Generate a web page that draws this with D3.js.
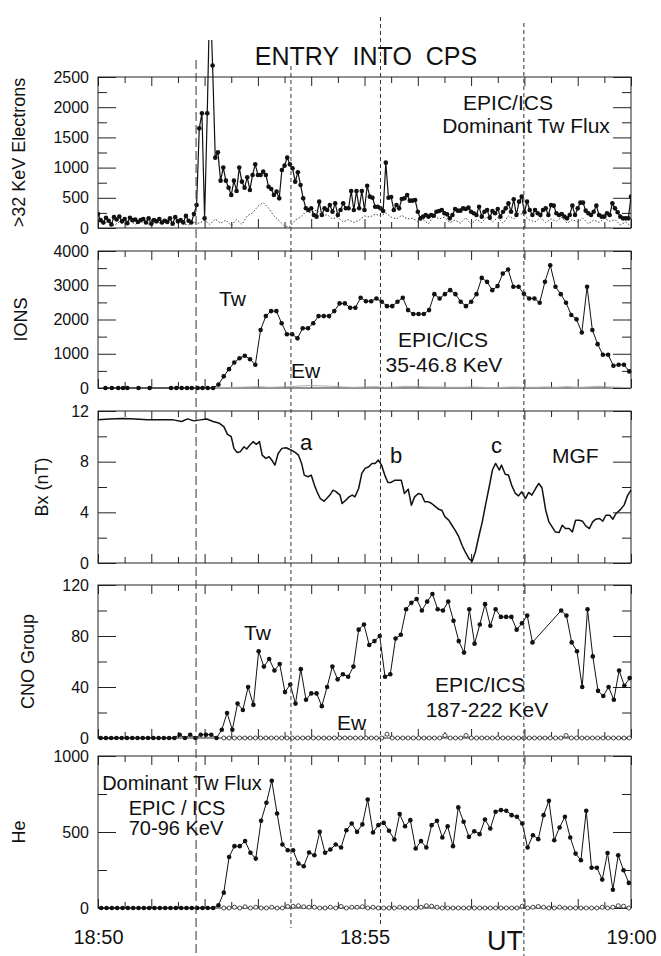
<!DOCTYPE html>
<html>
<head>
<meta charset="utf-8">
<script src="https://cdn.jsdelivr.net/npm/d3@7"></script>
<style>
  body { margin: 0; background: #fff; }
  svg { display: block; font-family: "Liberation Sans", Arial, Helvetica, sans-serif; }
</style>
</head>
<body>
<div id="chart"></div>
<script>
// ---- data (time in minutes after 18:50 UT) ----

// >32 keV electrons, Tw (dots), sampled every 3 s
const elecStep = 0.05;
const elecTw = [
  230,130,90,170,120,60,180,140,190,110,150,80,170,130,140,100,130,150,90,160,
  70,130,110,150,90,120,100,160,70,180,110,130,90,200,120,90,230,380,1650,1900,
  160,1900,4000,2690,1165,1253,784,1000,784,668,546,784,613,1000,767,668,839,630,878,1054,
  878,878,933,878,684,646,546,602,491,960,1032,1165,1054,988,767,922,712,491,326,298,
  326,215,188,436,215,326,298,381,270,408,215,298,408,326,326,613,298,613,326,613,
  298,700,519,502,353,353,325,281,1082,502,513,298,381,325,480,491,546,453,453,464,
  270,160,188,215,188,215,204,270,281,298,243,226,160,215,314,287,287,325,314,337,
  270,243,215,353,188,270,298,171,281,243,314,188,270,325,408,270,475,215,436,519,
  260,436,298,215,298,243,215,298,325,215,381,370,243,215,232,188,160,215,370,215,
  325,420,420,287,243,215,270,370,215,188,188,243,215,408,325,260,188,160,160,160,
  519
];
// >32 keV electrons, Ew (dotted), every 6 s
const elecEwStep = 0.1;
const elecEw = [
  150,60,120,40,100,70,120,60,110,80,50,110,60,150,60,120,70,50,90,80,
  130,60,150,80,130,40,140,60,200,250,360,420,330,200,120,30,20,130,180,270,
  250,300,200,220,150,180,100,140,90,130,200,180,230,200,250,180,150,210,150,160,
  110,140,70,200,150,180,90,130,80,170,60,140,90,190,100,170,80,200,150,250,
  200,130,100,170,90,150,110,180,80,140,100,160,70,130,90,160,110,140,50,100,
  30
];

// ions 35-46.8 keV
const ionTwEarlyTimes = [0.14,0.26,0.38,0.47,0.55,0.76,0.97,1.37,1.47,1.57,1.67,1.76,1.87,1.96,2.06,2.16];
const ionTwStart = 2.26, ionTwStep = 0.0988;
const ionTw = [
  100,340,550,745,870,940,840,680,1695,2100,2245,2245,1890,1570,1570,1450,1745,1745,1890,2100,
  2100,2100,2245,2470,2470,2345,2345,2635,2535,2535,2615,2520,2390,2390,2520,2635,2275,2160,2160,2160,
  2275,2740,2615,2740,2857,2740,2520,2390,2520,2740,3215,3100,2857,2975,3340,3460,2955,2955,2750,2615,
  2615,2490,3100,3585,2955,2740,2490,2130,2005,1620,2955,1695,1280,970,970,650,680,680,485
];
const ionEwStart = 0.2, ionEwStep = 0.2;
const ionEw = [
  0,0,0,0,0,0,0,0,0,0,0,10,20,30,40,20,30,40,60,70,
  60,50,30,20,30,40,20,30,50,40,30,30,20,20,30,20,10,20,30,20,
  20,30,20,40,20,30,50,30,20,10
];

// Bx (nT), MGF
const bxTime = [
  0,0.22,0.46,0.70,0.93,1.17,1.41,1.57,1.68,1.80,1.92,2.04,2.16,2.28,2.36,2.43,2.50,2.55,2.61,2.67,
  2.74,2.79,2.85,2.91,2.97,3.03,3.08,3.15,3.21,3.26,3.32,3.38,3.45,3.53,3.62,3.70,3.76,3.82,3.87,3.94,
  4.00,4.06,4.11,4.17,4.24,4.29,4.35,4.41,4.47,4.54,4.58,4.65,4.71,4.77,4.82,4.89,4.95,5.01,5.08,5.14,
  5.20,5.26,5.32,5.38,5.44,5.50,5.57,5.63,5.69,5.75,5.82,5.88,5.94,6.01,6.07,6.13,6.20,6.26,6.32,6.39,
  6.45,6.51,6.58,6.64,6.70,6.77,6.83,6.89,6.96,7.02,7.08,7.15,7.21,7.27,7.34,7.40,7.46,7.53,7.57,7.64,
  7.70,7.76,7.83,7.89,7.95,8.02,8.08,8.14,8.21,8.27,8.33,8.40,8.46,8.52,8.58,8.65,8.71,8.77,8.84,8.90,
  8.96,9.03,9.09,9.15,9.22,9.28,9.34,9.41,9.47,9.53,9.60,9.66,9.72,9.79,9.87,9.94,10.0
];
const bxValue = [
  11.30,11.37,11.40,11.37,11.30,11.30,11.30,11.17,11.38,11.22,11.30,11.37,11.17,11.03,10.77,10.16,9.97,9.05,8.73,8.79,
  9.18,9.00,9.31,9.58,9.37,9.58,8.52,8.26,8.39,8.13,7.73,8.65,9.05,9.10,8.92,8.73,8.52,7.86,6.94,6.81,
  6.94,6.15,5.62,5.09,4.88,5.09,5.36,5.75,5.62,5.36,4.70,4.96,5.22,5.36,5.22,5.88,7.07,7.47,7.60,7.86,
  7.86,8.13,7.73,6.94,6.36,6.36,6.54,6.54,6.54,5.49,5.83,4.56,5.22,5.49,5.41,4.83,4.83,4.70,4.49,4.25,
  4.17,3.64,3.38,2.98,2.59,2.06,1.40,0.87,0.34,0.13,0.87,2.19,3.25,4.57,6.02,7.34,7.86,7.34,7.73,7.00,
  6.94,6.15,5.49,5.30,5.62,5.09,5.57,5.36,5.88,6.28,5.94,4.17,3.25,2.85,2.45,2.40,2.98,2.72,2.72,2.45,
  3.38,3.38,3.30,2.93,2.72,3.25,3.46,3.51,3.30,3.77,3.77,3.46,3.91,4.17,4.57,5.36,5.75
];

// CNO group 187-222 keV
const cnoStart = 0.05, cnoStep = 0.0988;
const cnoTw = [
  0,0,0,0,0,0,0,0,0,0,0,0,0,0,0,2.6,0,2.6,0,2.6,
  2.6,2.6,0,6.5,19.6,6.5,27,22,40,26,68,56,62,53,58,36,42,27,54,30,
  35,35,25,40,56,46,50,48,56,85,89,73,76,80,48,50,78,81,101,106,
  109,100,107,113,101,100,107,92,76,67,101,74,89,105,88,101,95,95,95,85,
  90,96,75
];
const cnoLateStart = 8.69;
const cnoTwLate = [100,96,75,68,40,101,64,37,33,40,30,53,41,47];
const cnoEwStart = 2.36, cnoEwStep = 0.0988;
const cnoEw = [
  0,0,0,0,0,0,0,0,0,0,0,0,0,0,0,0,0,0,0,0,
  0,0,0,0,0,0,0,0,0,0,0,3,0,0,0,0,0,0,0,0,
  0,0,2,0,0,0,2,0,0,0,0,0,0,0,0,0,0,0,0,0,
  0,0,0,0,0,2,0,0,0,0,0,0,0,0,0,0,0,0
];

// He 70-96 keV
const heStart = 0.06, heStep = 0.1;
const heTw = [
  0,0,0,0,0,0,0,0,0,0,0,0,0,0,0,0,0,0,0,0,0,0,
  18,101,336,407,407,440,363,325,574,692,837,622,418,380,380,292,275,365,347,501,
  363,385,418,398,512,556,501,550,714,497,545,560,508,451,618,538,578,391,440,398,
  545,574,464,538,407,662,567,468,505,486,582,523,633,644,640,611,600,556,398,479,
  453,611,705,446,530,600,464,358,314,640,265,265,187,362,120,347,248,165
];
const heEwStart = 2.36, heEwStep = 0.1;
const heEw = [
  0,0,5,0,8,0,5,0,0,5,0,0,10,12,15,8,5,5,0,0,5,0,10,0,5,5,8,0,5,0,
  0,0,0,5,0,0,0,5,15,12,5,0,0,0,0,0,0,0,0,0,
  0,0,0,0,0,0,12,0,5,10,5,0,0,5,0,0,0,0,0,0,
  0,5,0,5,15,12,0
];

// event markers (dashed verticals)
const eventTimes = [1.84, 3.62, 5.30, 7.99];

// axis ticks
const elecTicks = [0,500,1000,1500,2000,2500], elecMinor = [250,750,1250,1750,2250];
const ionTicks = [0,1000,2000,3000,4000], ionMinor = [500,1500,2500,3500];
const bxTicks = [0,4,8,12], bxMinor = [2,6,10];
const cnoTicks = [0,40,80,120], cnoMinor = [20,60,100];
const heTicks = [0,500,1000], heMinor = [250,750];

// ---- helpers ----
const t0 = Date.UTC(1998, 0, 1, 18, 50);
const at = (m) => new Date(t0 + m * 60000);
const grid = (start, step, vals) => vals.map((v, i) => ({ t: at(start + i * step), v }));
const pairs = (times, vals) => vals.map((v, i) => ({ t: at(times[i]), v }));

// ---- layout ----
const width = 661, height = 956;
const plotLeft = 98, plotRight = 631;

const x = d3.scaleUtc().domain([at(0), at(10)]).range([plotLeft, plotRight]);
const minuteTicks = d3.utcMinute.range(at(0), at(10.01));
const halfTicks = d3.utcSecond.every(30).range(at(0), at(10.01)).filter((d) => d.getUTCSeconds() === 30);

const svg = d3.create("svg")
  .attr("width", width)
  .attr("height", height)
  .attr("viewBox", [0, 0, width, height]);

svg.append("rect").attr("width", width).attr("height", height).attr("fill", "#fff");

const panels = [
  { top: 77,  bottom: 228, max: 2500, ticks: elecTicks, minor: elecMinor, label: ">32 KeV Electrons", labelX: 19 },
  { top: 251, bottom: 388, max: 4000, ticks: ionTicks,  minor: ionMinor,  label: "IONS",              labelX: 21 },
  { top: 411, bottom: 563, max: 12,   ticks: bxTicks,   minor: bxMinor,   label: "Bx (nT)",           labelX: 42 },
  { top: 585, bottom: 738, max: 120,  ticks: cnoTicks,  minor: cnoMinor,  label: "CNO Group",         labelX: 28 },
  { top: 756, bottom: 908, max: 1000, ticks: heTicks,   minor: heMinor,   label: "He",                labelX: 19 }
];

function noDomain(g) { g.select(".domain").remove(); }

function drawPanel(p, withTimeLabels) {
  const y = d3.scaleLinear().domain([0, p.max]).range([p.bottom, p.top]);
  const g = svg.append("g");

  g.append("rect")
    .attr("x", plotLeft).attr("y", p.top)
    .attr("width", plotRight - plotLeft).attr("height", p.bottom - p.top)
    .attr("fill", "none").attr("stroke", "#222").attr("stroke-width", 1);

  // left
  g.append("g").attr("transform", `translate(${plotLeft},0)`)
    .call(d3.axisLeft(y).tickValues(p.ticks).tickSize(-18).tickPadding(9).tickFormat(d3.format("d")))
    .call(noDomain)
    .call((a) => a.selectAll("text").attr("font-size", 16).attr("font-family", null).attr("fill", "#111"));
  g.append("g").attr("transform", `translate(${plotLeft},0)`)
    .call(d3.axisLeft(y).tickValues(p.minor).tickSize(-9).tickFormat(""))
    .call(noDomain);
  // right
  g.append("g").attr("transform", `translate(${plotRight},0)`)
    .call(d3.axisRight(y).tickValues(p.ticks).tickSize(-18).tickFormat(""))
    .call(noDomain);
  g.append("g").attr("transform", `translate(${plotRight},0)`)
    .call(d3.axisRight(y).tickValues(p.minor).tickSize(-9).tickFormat(""))
    .call(noDomain);
  // top
  g.append("g").attr("transform", `translate(0,${p.top})`)
    .call(d3.axisTop(x).tickValues(minuteTicks).tickSize(-9).tickFormat(""))
    .call(noDomain);
  g.append("g").attr("transform", `translate(0,${p.top})`)
    .call(d3.axisTop(x).tickValues(halfTicks).tickSize(-6).tickFormat(""))
    .call(noDomain);
  // bottom
  const fmt = d3.utcFormat("%H:%M");
  g.append("g").attr("transform", `translate(0,${p.bottom})`)
    .call(d3.axisBottom(x).tickValues(minuteTicks).tickSize(-9).tickPadding(22)
      .tickFormat((d) => (withTimeLabels && d.getUTCMinutes() % 5 === 0 ? fmt(d) : "")))
    .call(noDomain)
    .call((a) => a.selectAll("text").attr("font-size", 20).attr("font-family", null).attr("fill", "#111"));
  g.append("g").attr("transform", `translate(0,${p.bottom})`)
    .call(d3.axisBottom(x).tickValues(halfTicks).tickSize(-6).tickFormat(""))
    .call(noDomain);

  g.selectAll(".tick line").attr("stroke", "#222");

  // y label
  g.append("text")
    .attr("transform", `translate(${p.labelX},${(p.top + p.bottom) / 2}) rotate(-90)`)
    .attr("text-anchor", "middle")
    .attr("dy", "0.35em")
    .attr("font-size", 18)
    .attr("fill", "#111")
    .text(p.label);

  return y;
}

const ys = panels.map((p, i) => drawPanel(p, i === panels.length - 1));

function drawLine(data, y, opts) {
  const line = d3.line().x((d) => x(d.t)).y((d) => y(d.v));
  const path = svg.append("path")
    .attr("d", line(data))
    .attr("fill", "none")
    .attr("stroke", opts.stroke || "#111")
    .attr("stroke-width", opts.width || 1)
    .attr("stroke-linejoin", "round");
  if (opts.dash) path.attr("stroke-dasharray", opts.dash);
  if (opts.clip) path.attr("clip-path", opts.clip);
  return path;
}

function drawDots(data, y, opts) {
  const g = svg.append("g");
  if (opts.clip) g.attr("clip-path", opts.clip);
  g.selectAll("circle")
    .data(data)
    .join("circle")
    .attr("cx", (d) => x(d.t))
    .attr("cy", (d) => y(d.v))
    .attr("r", opts.r || 2.3)
    .attr("fill", opts.open ? "#fff" : "#111")
    .attr("stroke", opts.open ? "#333" : "none")
    .attr("stroke-width", opts.open ? 0.9 : 0);
}

// clip for the electron panel (the spike leaves the frame)
svg.append("defs").append("clipPath").attr("id", "elec-clip")
  .append("rect").attr("x", plotLeft).attr("y", 40)
  .attr("width", plotRight - plotLeft).attr("height", 200);

// panel 1: electrons
const elecTwData = grid(0, elecStep, elecTw);
const elecEwData = grid(0, elecEwStep, elecEw);
drawLine(elecEwData, ys[0], { stroke: "#444", width: 1, dash: "1.5 1.8" });
drawLine(elecTwData, ys[0], { width: 1.2, clip: "url(#elec-clip)" });
drawDots(elecTwData, ys[0], { r: 2.3, clip: "url(#elec-clip)" });

// panel 2: ions
const ionTwData = ionTwEarlyTimes.map((m) => ({ t: at(m), v: 0 }))
  .concat(grid(ionTwStart, ionTwStep, ionTw));
drawLine(grid(ionEwStart, ionEwStep, ionEw), ys[1], { stroke: "#aaa", width: 1 });
drawLine(ionTwData, ys[1], { width: 1 });
drawDots(ionTwData, ys[1], { r: 2.3 });

// panel 3: Bx
drawLine(pairs(bxTime, bxValue), ys[2], { width: 1.5 });

// panel 4: CNO
const cnoTwData = grid(cnoStart, cnoStep, cnoTw).concat(grid(cnoLateStart, cnoStep, cnoTwLate));
const cnoEwData = grid(cnoEwStart, cnoEwStep, cnoEw);
drawLine(cnoEwData, ys[3], { stroke: "#555", width: 0.8 });
drawDots(cnoEwData, ys[3], { r: 2, open: true });
drawLine(cnoTwData, ys[3], { width: 1 });
drawDots(cnoTwData, ys[3], { r: 2.3 });

// panel 5: He
const heTwData = grid(heStart, heStep, heTw);
const heEwData = grid(heEwStart, heEwStep, heEw);
drawLine(heEwData, ys[4], { stroke: "#555", width: 0.8 });
drawDots(heEwData, ys[4], { r: 2, open: true });
drawLine(heTwData, ys[4], { width: 1 });
drawDots(heTwData, ys[4], { r: 2.3 });

// event lines
const eventExtent = [[60, 956], [66, 928], [17, 927], [23, 956]];
const eventDash = ["9 4", "4 3", "4 3", "4 3"];
svg.append("g").selectAll("line")
  .data(eventTimes)
  .join("line")
  .attr("x1", (d) => x(at(d))).attr("x2", (d) => x(at(d)))
  .attr("y1", (d, i) => eventExtent[i][0])
  .attr("y2", (d, i) => eventExtent[i][1])
  .attr("stroke", "#333")
  .attr("stroke-width", 1)
  .attr("stroke-dasharray", (d, i) => eventDash[i]);

// titles and annotations
const notes = [
  { text: "ENTRY  INTO  CPS", x: 366, y: 65, size: 25, anchor: "middle" },
  { text: "EPIC/ICS", x: 508, y: 110, size: 21, anchor: "middle" },
  { text: "Dominant Tw Flux", x: 526, y: 133, size: 21, anchor: "middle" },
  { text: "Tw", x: 219, y: 306, size: 21, anchor: "start" },
  { text: "Ew", x: 291, y: 378, size: 21, anchor: "start" },
  { text: "EPIC/ICS", x: 443, y: 347, size: 21, anchor: "middle" },
  { text: "35-46.8 KeV", x: 444, y: 372, size: 21, anchor: "middle" },
  { text: "a", x: 300, y: 450, size: 22, anchor: "start" },
  { text: "b", x: 390, y: 463, size: 22, anchor: "start" },
  { text: "c", x: 491, y: 453, size: 22, anchor: "start" },
  { text: "MGF", x: 552, y: 463, size: 21, anchor: "start" },
  { text: "Tw", x: 244, y: 640, size: 21, anchor: "start" },
  { text: "EPIC/ICS", x: 480, y: 692, size: 21, anchor: "middle" },
  { text: "187-222 KeV", x: 487, y: 717, size: 21, anchor: "middle" },
  { text: "Ew", x: 337, y: 730, size: 21, anchor: "start" },
  { text: "Dominant Tw Flux", x: 182, y: 790, size: 20, anchor: "middle" },
  { text: "EPIC / ICS", x: 177, y: 815, size: 20, anchor: "middle" },
  { text: "70-96 KeV", x: 176, y: 835, size: 20, anchor: "middle" },
  { text: "UT", x: 505, y: 950, size: 27, anchor: "middle" }
];
svg.append("g").selectAll("text")
  .data(notes)
  .join("text")
  .attr("x", (d) => d.x)
  .attr("y", (d) => d.y)
  .attr("font-size", (d) => d.size)
  .attr("text-anchor", (d) => d.anchor)
  .attr("fill", "#111")
  .style("white-space", "pre")
  .text((d) => d.text);

document.getElementById("chart").appendChild(svg.node());
</script>
</body>
</html>
